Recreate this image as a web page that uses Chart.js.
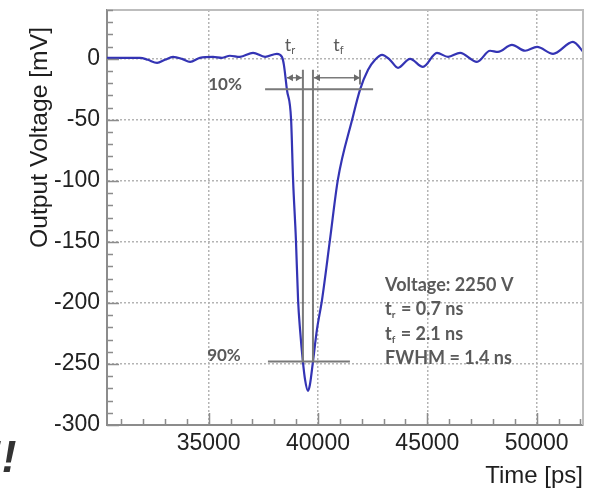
<!DOCTYPE html>
<html>
<head>
<meta charset="utf-8">
<script src="https://cdn.jsdelivr.net/npm/chart.js@4.4.0/dist/chart.umd.min.js"></script>
<style>
  html, body { margin: 0; padding: 0; background: #fff; }
</style>
</head>
<body>
<canvas id="pulseChart" width="592" height="489"></canvas>
<script>
// Output pulse: time in ps, voltage in mV
const timePs = [30350, 31170, 31860, 32220, 32640, 33000, 33370, 33780, 34150, 34600,
  35200, 35610, 35970, 36430, 37030, 37580, 38120, 38350, 38440, 38580,
  38770, 38860, 38990, 39090, 39180, 39310, 39410, 39540, 39630, 39770,
  39950, 40180, 40550, 40910, 41560, 41920, 42290, 42610, 42930,
  43290, 43660, 44210, 44800, 45440, 45950, 46500, 47270, 47870, 48230,
  48870, 49470, 50020, 50750, 51660, 52170];
const voltageMv = [0.8, 0.8, 0.8, -0.8, -3.3, -0.8, 1.6, 0, -2.5, 0.8,
  1.6, 0.8, 2.5, 1.6, 4.9, 1.6, 4.1, 1.6, -4.9, -25.4,
  -50, -99, -148, -198, -222, -248, -263, -272, -267, -248,
  -222, -198, -148, -99, -50, -25.4, -9, -0.8, 3.3,
  -0.8, -7.4, 0, -6.6, 4.9, 1.6, 4.9, -2.5, 6.6, 5.7,
  11.5, 6.6, 9.8, 4.1, 13.9, 4.9];

const xTicks = [35000, 40000, 45000, 50000];
const yTicks = [-300, -250, -200, -150, -100, -50, 0];

// 10% / 90% levels and the crossing times used for tr and tf
const level10 = -25;
const level90 = -248;
const riseStart = 38580, riseEnd = 39310;
const fallStart = 39770, fallEnd = 41920;

const infoLines = [
  ["Voltage: 2250 V", "", ""],
  ["t", "r", " = 0.7 ns"],
  ["t", "f", " = 2.1 ns"],
  ["FWHM = 1.4 ns", "", ""]
];

const AX_FONT = '"Liberation Sans", Arial, sans-serif';
const NOTE_FONT = 'Lato, "Open Sans", sans-serif';

function arrow(ctx, x1, x2, y) {
  ctx.beginPath();
  ctx.moveTo(x1, y); ctx.lineTo(x2, y); ctx.stroke();
  const h = 6, w = 3.5;
  ctx.beginPath();
  ctx.moveTo(x1, y); ctx.lineTo(x1 + h, y - w); ctx.lineTo(x1 + h, y + w); ctx.closePath();
  ctx.moveTo(x2, y); ctx.lineTo(x2 - h, y - w); ctx.lineTo(x2 - h, y + w); ctx.closePath();
  ctx.fill();
}

const decorations = {
  id: 'decorations',
  afterDatasetsDraw(chart) {
    const { ctx, chartArea: a, scales: { x, y } } = chart;
    ctx.save();

    // frame on top and right
    ctx.strokeStyle = '#bdbdbd';
    ctx.lineWidth = 2;
    ctx.beginPath();
    ctx.moveTo(a.left, a.top); ctx.lineTo(a.right, a.top); ctx.lineTo(a.right, a.bottom);
    ctx.stroke();

    // inward tick marks
    ctx.strokeStyle = '#8c8c8c';
    ctx.lineWidth = 1.5;
    ctx.beginPath();
    for (let t = 31000; t <= 52000; t += 1000) {
      const px = Math.round(x.getPixelForValue(t)) + 0.5;
      const len = t % 5000 === 0 ? 12 : 6;
      ctx.moveTo(px, a.bottom); ctx.lineTo(px, a.bottom - len);
    }
    for (let v = -300; v <= 40; v += 10) {
      const py = Math.round(y.getPixelForValue(v)) + 0.5;
      const len = v % 50 === 0 ? 12 : 6;
      ctx.moveTo(a.left, py); ctx.lineTo(a.left + len, py);
    }
    ctx.stroke();

    // level lines and tr / tf markers
    ctx.strokeStyle = '#7a7a7a';
    ctx.fillStyle = '#6a6a6a';
    ctx.lineWidth = 2;
    const y10 = y.getPixelForValue(level10);
    const y90 = y.getPixelForValue(level90);
    const yTop = y.getPixelForValue(-9);
    const yArrow = y.getPixelForValue(-15.5);
    ctx.beginPath();
    ctx.moveTo(x.getPixelForValue(37580), y10); ctx.lineTo(x.getPixelForValue(42520), y10);
    ctx.moveTo(x.getPixelForValue(37710), y90); ctx.lineTo(x.getPixelForValue(41460), y90);
    [riseEnd, fallStart].forEach(t => {
      const px = x.getPixelForValue(t);
      ctx.moveTo(px, yTop); ctx.lineTo(px, y90);
    });
    const pxFall = x.getPixelForValue(fallEnd);
    ctx.moveTo(pxFall, yTop); ctx.lineTo(pxFall, y.getPixelForValue(-21));
    ctx.stroke();
    ctx.lineWidth = 1.5;
    arrow(ctx, x.getPixelForValue(riseStart), x.getPixelForValue(riseEnd) - 1, yArrow);
    arrow(ctx, x.getPixelForValue(fallStart) + 1, pxFall, yArrow);

    // labels
    ctx.fillStyle = '#5a5a5a';
    ctx.textBaseline = 'alphabetic';
    ctx.font = 'bold 17px ' + NOTE_FONT;
    ctx.textAlign = 'center';
    ctx.fillText('10%', x.getPixelForValue(35750), y10 + 1);
    ctx.fillText('90%', x.getPixelForValue(35700), y90 - 1);

    const subLabel = (px, main, sub) => {
      ctx.textAlign = 'left';
      ctx.font = '18px ' + NOTE_FONT;
      ctx.fillText(main, px, 51);
      const w = ctx.measureText(main).width;
      ctx.font = '11px ' + NOTE_FONT;
      ctx.fillText(sub, px + w, 54);
    };
    subLabel(x.getPixelForValue(38480), 't', 'r');
    subLabel(x.getPixelForValue(40700), 't', 'f');

    // info block
    const bx = x.getPixelForValue(43070);
    let by = y.getPixelForValue(-185) + 6;
    infoLines.forEach(([main, sub, rest]) => {
      ctx.textAlign = 'left';
      ctx.font = 'bold 18px ' + NOTE_FONT;
      ctx.fillText(main, bx, by);
      let cx = bx + ctx.measureText(main).width;
      if (sub) {
        ctx.font = 'bold 10px ' + NOTE_FONT;
        ctx.fillText(sub, cx, by + 3);
        cx += ctx.measureText(sub).width + 1;
        ctx.font = 'bold 18px ' + NOTE_FONT;
        ctx.fillText(rest, cx, by);
      }
      by += 24.5;
    });

    // axis titles
    ctx.fillStyle = '#1e1e1e';
    ctx.font = '24px ' + AX_FONT;
    ctx.textBaseline = 'middle';
    ctx.textAlign = 'right';
    ctx.fillText('Time [ps]', a.right, 476);
    ctx.save();
    ctx.font = '24.7px ' + AX_FONT;
    ctx.translate(40, 27);
    ctx.rotate(-Math.PI / 2);
    ctx.fillText('Output Voltage [mV]', 0, 0);
    ctx.restore();

    // stray marks at the lower left corner
    ctx.fillStyle = '#333';
    ctx.font = 'italic bold 44px ' + AX_FONT;
    ctx.textAlign = 'left';
    ctx.textBaseline = 'alphabetic';
    ctx.fillText('!!', -13, 472);

    ctx.restore();
  }
};

new Chart(document.getElementById('pulseChart'), {
  type: 'line',
  data: {
    datasets: [{
      data: timePs.map((t, i) => ({ x: t, y: voltageMv[i] })),
      borderColor: '#3434b4',
      borderWidth: 2.2,
      pointRadius: 0,
      cubicInterpolationMode: 'monotone',
      fill: false
    }]
  },
  options: {
    responsive: false,
    animation: false,
    devicePixelRatio: 1,
    layout: { padding: { top: 10, right: 9, left: 0, bottom: 0 } },
    plugins: { legend: { display: false }, tooltip: { enabled: false } },
    scales: {
      x: {
        type: 'linear',
        min: 30350,
        max: 52120,
        afterBuildTicks: s => { s.ticks = xTicks.map(v => ({ value: v })); },
        afterFit: s => { s.height = 64; s.paddingLeft = 0; s.paddingRight = 0; },
        grid: { color: '#b4b4b4', lineWidth: 1.5, drawTicks: false },
        border: { color: '#8c8c8c', width: 2, dash: [2, 2] },
        ticks: {
          font: { family: AX_FONT, size: 23 },
          color: '#222',
          padding: 5,
          maxRotation: 0,
          autoSkip: false,
          callback: v => String(v)
        }
      },
      y: {
        min: -300,
        max: 40,
        afterBuildTicks: s => { s.ticks = yTicks.map(v => ({ value: v })); },
        afterFit: s => { s.width = 107; s.paddingTop = 0; s.paddingBottom = 0; },
        grid: { color: '#b4b4b4', lineWidth: 1.5, drawTicks: false },
        border: { color: '#8c8c8c', width: 2, dash: [2, 2] },
        ticks: {
          font: { family: AX_FONT, size: 23 },
          color: '#222',
          padding: 7,
          autoSkip: false,
          callback: v => String(v)
        }
      }
    }
  },
  plugins: [decorations]
});
</script>
</body>
</html>
